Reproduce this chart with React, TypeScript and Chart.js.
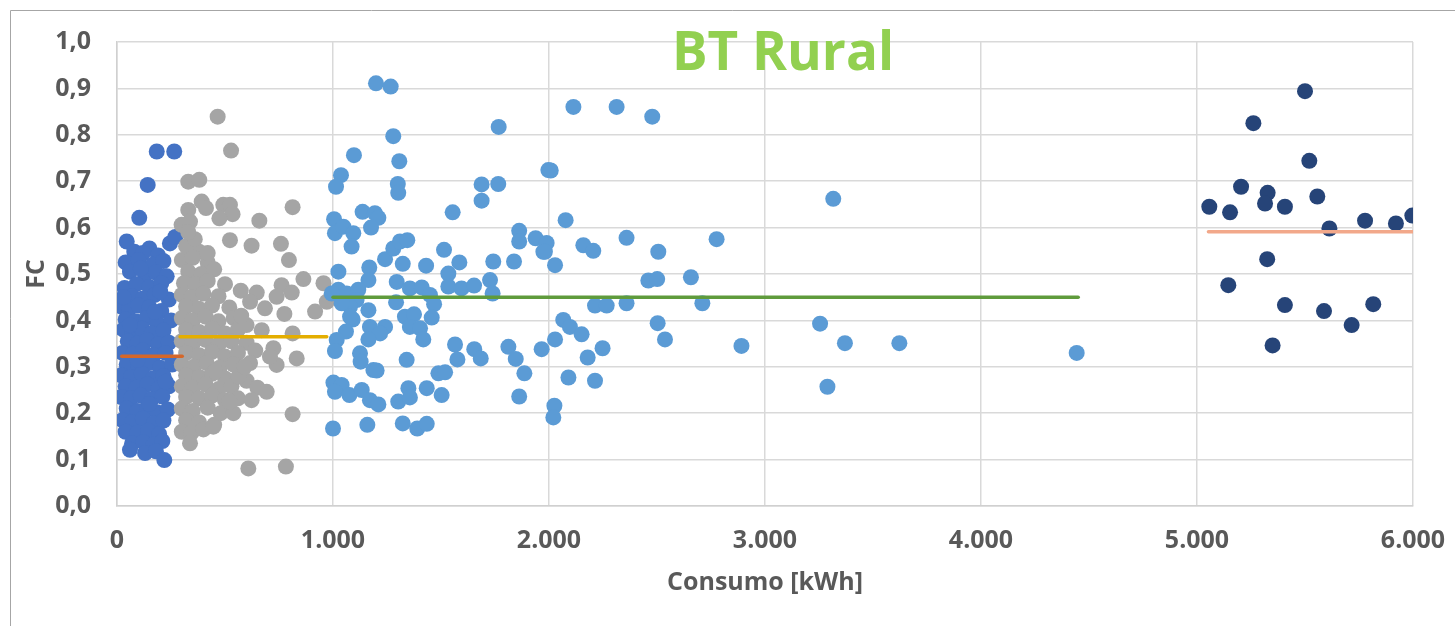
import React, { useEffect, useRef } from "react";
import { Chart, registerables } from "chart.js";

Chart.register(...registerables);

// ---- Data (Consumo [kWh], FC) ----
const darkBlueX = [
  45, 150, 245, 270, 80, 120, 190, 40, 100, 165, 215, 60, 130, 180, 230, 35, 90, 150, 205,
  70, 120, 175, 240, 20, 55, 100, 150, 205, 40, 85, 135, 185, 250, 30, 70, 115, 160, 215,
  50, 95, 140, 190, 240, 25, 75, 120, 170, 225, 45, 100, 150, 200, 255, 20, 65, 115, 165, 215,
  40, 90, 140, 190, 240, 20, 65, 110, 160, 210, 45, 95, 140, 185, 235, 25, 70, 120, 170, 215,
  40, 95, 145, 195, 70, 120, 170, 210, 60, 130, 180, 219, 184, 265, 142, 103,
  110, 200, 60, 175, 95, 225, 150, 30,
];
const darkBlueY = [
  0.57, 0.555, 0.566, 0.58, 0.548, 0.545, 0.54, 0.525, 0.53, 0.52, 0.528, 0.505, 0.498, 0.503, 0.495,
  0.47, 0.478, 0.472, 0.48, 0.452, 0.447, 0.455, 0.445, 0.43, 0.425, 0.432, 0.428, 0.42,
  0.402, 0.398, 0.405, 0.395, 0.4, 0.38, 0.375, 0.382, 0.372, 0.378, 0.355, 0.35, 0.358, 0.348, 0.352,
  0.33, 0.328, 0.335, 0.325, 0.33, 0.305, 0.3, 0.308, 0.298, 0.305, 0.282, 0.278, 0.285, 0.275, 0.28,
  0.258, 0.255, 0.262, 0.252, 0.258, 0.235, 0.232, 0.238, 0.23, 0.236, 0.21, 0.205, 0.212, 0.202, 0.208,
  0.185, 0.18, 0.188, 0.178, 0.184, 0.16, 0.158, 0.162, 0.155, 0.135, 0.138, 0.132, 0.14,
  0.121, 0.114, 0.118, 0.099, 0.764, 0.764, 0.692, 0.621,
  0.512, 0.462, 0.39, 0.418, 0.315, 0.268, 0.22, 0.45,
];

const grayX = [
  320, 380, 300, 350, 420, 330, 390, 450, 310, 360, 420, 500, 300, 345, 400, 470, 320, 380, 440, 520,
  300, 350, 410, 470, 540, 320, 380, 440, 500, 560, 300, 350, 410, 470, 530, 600,
  320, 380, 440, 500, 560, 640, 300, 355, 415, 475, 540, 320, 380, 440, 500, 600,
  300, 350, 410, 470, 530, 650, 320, 380, 440, 500, 560, 300, 350, 420, 480, 320, 380, 450,
  300, 345, 400,
  466, 528, 330, 381, 813, 392, 412, 330, 492, 523, 535, 474, 299, 338, 659, 523, 623, 759, 796,
  863, 956, 573, 647, 762, 809, 739, 616, 685, 775, 917, 971, 813, 670, 600, 724, 739, 832, 708,
  616, 693, 813, 562, 539, 623, 446, 338, 608, 782,
  360, 420, 575, 330, 455, 590, 520,
];
const grayY = [
  0.56, 0.548, 0.53, 0.535, 0.525, 0.505, 0.5, 0.51, 0.48, 0.478, 0.485, 0.478, 0.455, 0.45, 0.458, 0.452,
  0.43, 0.425, 0.432, 0.428, 0.405, 0.4, 0.408, 0.398, 0.405, 0.38, 0.375, 0.382, 0.372, 0.38,
  0.355, 0.35, 0.358, 0.348, 0.355, 0.352, 0.33, 0.325, 0.332, 0.322, 0.33, 0.335,
  0.305, 0.3, 0.308, 0.298, 0.305, 0.282, 0.278, 0.285, 0.275, 0.27,
  0.258, 0.255, 0.262, 0.252, 0.258, 0.255, 0.235, 0.232, 0.238, 0.228, 0.232,
  0.21, 0.205, 0.212, 0.2, 0.185, 0.18, 0.175, 0.16, 0.158, 0.165,
  0.839, 0.766, 0.699, 0.703, 0.644, 0.656, 0.642, 0.638, 0.649, 0.649, 0.629, 0.62, 0.606, 0.613,
  0.615, 0.573, 0.561, 0.565, 0.53, 0.489, 0.48, 0.464, 0.46, 0.476, 0.46, 0.451, 0.44, 0.426,
  0.414, 0.419, 0.44, 0.372, 0.379, 0.39, 0.34, 0.304, 0.318, 0.322, 0.308, 0.246, 0.198,
  0.279, 0.2, 0.228, 0.171, 0.135, 0.081, 0.085,
  0.575, 0.545, 0.41, 0.59, 0.29, 0.3, 0.225,
];

const lightBlueX = [
  1199, 1267, 1279, 1097, 1307, 1037, 1014, 1300, 1302, 1767, 1688, 1765, 1688, 1997, 1554, 1005,
  1009, 1048, 1094, 1086, 1137, 1194, 1210, 1176, 1241, 1279, 1310, 1344, 1323, 1431, 1514, 1585,
  1742, 1838, 1862, 1862, 1938, 1974, 1025, 1168, 1164, 1025, 1295, 1356, 1411, 1449, 1292, 1534,
  1534, 1595, 1653, 1727, 1739, 1468, 1333, 1375, 1356, 1403, 1418, 1457, 1091, 1060, 1171, 1241,
  1218, 1164, 1017, 1009, 1125, 1128, 1341, 1565, 1576, 1654, 1684, 1812, 1846, 1886, 1966, 1187,
  1202, 1488, 1519, 1002, 1040, 1009, 1076, 1133, 1171, 1210, 1302, 1349, 1356, 1434, 1503, 1862,
  1000, 1159, 1323, 1390, 1434, 1063, 1117, 1109, 1079, 1164, 994, 1040, 1079,
  2113, 2313, 2478, 2008, 2077, 1989, 1981, 2028, 2159, 2205, 2359, 2506, 2776, 2460, 2501, 2657,
  2213, 2267, 2359, 2710, 2066, 2097, 2151, 2028, 2503, 2537, 2248, 2179, 2891, 2090, 2213, 2025, 2020,
  3316, 3255, 3370, 3622, 4443, 3289,
];
const lightBlueY = [
  0.911, 0.904, 0.797, 0.756, 0.743, 0.713, 0.688, 0.694, 0.675, 0.817, 0.693, 0.694, 0.658, 0.724, 0.633, 0.618,
  0.588, 0.602, 0.588, 0.559, 0.634, 0.631, 0.621, 0.6, 0.532, 0.555, 0.57, 0.573, 0.522, 0.518, 0.552, 0.525,
  0.527, 0.527, 0.593, 0.57, 0.577, 0.548, 0.505, 0.514, 0.487, 0.466, 0.483, 0.469, 0.471, 0.455, 0.439, 0.501,
  0.473, 0.469, 0.475, 0.487, 0.458, 0.435, 0.408, 0.413, 0.386, 0.383, 0.359, 0.406, 0.402, 0.376, 0.386, 0.386,
  0.372, 0.359, 0.358, 0.334, 0.329, 0.311, 0.315, 0.348, 0.316, 0.338, 0.318, 0.343, 0.317, 0.286, 0.338, 0.293,
  0.292, 0.286, 0.288, 0.266, 0.261, 0.246, 0.239, 0.25, 0.228, 0.219, 0.225, 0.254, 0.234, 0.254, 0.239, 0.236,
  0.167, 0.175, 0.178, 0.167, 0.177, 0.458, 0.466, 0.444, 0.43, 0.422, 0.458, 0.437, 0.408,
  0.86, 0.86, 0.839, 0.723, 0.616, 0.567, 0.548, 0.519, 0.562, 0.55, 0.578, 0.548, 0.575, 0.486, 0.489, 0.493,
  0.432, 0.432, 0.437, 0.437, 0.401, 0.386, 0.37, 0.359, 0.394, 0.359, 0.34, 0.32, 0.345, 0.277, 0.27, 0.216, 0.191,
  0.662, 0.393, 0.351, 0.351, 0.33, 0.257,
];

const navyX = [
  5500, 5261, 5520, 5204, 5327, 5315, 5057, 5153, 5407, 5557, 5613, 5778, 5921, 5997, 5325, 5145,
  5407, 5588, 5816, 5716, 5350,
];
const navyY = [
  0.894, 0.825, 0.744, 0.688, 0.675, 0.652, 0.645, 0.633, 0.645, 0.667, 0.598, 0.615, 0.609, 0.626, 0.532, 0.476,
  0.433, 0.42, 0.435, 0.39, 0.346,
];

// Mean lines: [startX, endX], FC
const meanLowX = [22, 302];
const meanLowY = 0.323;
const meanMidX = [292, 971];
const meanMidY = 0.365;
const meanHighX = [1000, 4450];
const meanHighY = 0.45;
const meanTopX = [5053, 6010];
const meanTopY = 0.591;

const xTicks = [0, 1000, 2000, 3000, 4000, 5000, 6000];
const yTicks = [0, 0.1, 0.2, 0.3, 0.4, 0.5, 0.6, 0.7, 0.8, 0.9, 1.0];

const chartTitle = "BT Rural";
const xTitle = "Consumo [kWh]";
const yTitle = "FC";

const FONT = "'Open Sans', sans-serif";
const LABEL_SIZE = 25;

function pts(xs: number[], ys: number[]) {
  return xs.map((x, i) => ({ x, y: ys[i] }));
}
function seg(xs: number[], y: number) {
  return xs.map((x) => ({ x, y }));
}

const decorPlugin = {
  id: "decor",
  beforeDraw(chart: any) {
    const ctx = chart.ctx;
    ctx.save();
    ctx.fillStyle = "#ffffff";
    ctx.fillRect(0, 0, chart.width, chart.height);
    ctx.strokeStyle = "#a6a6a6";
    ctx.lineWidth = 1;
    ctx.beginPath();
    ctx.moveTo(10.5, chart.height);
    ctx.lineTo(10.5, 10.5);
    ctx.lineTo(chart.width, 10.5);
    ctx.stroke();
    ctx.restore();
  },
  afterDraw(chart: any) {
    const ctx = chart.ctx;
    ctx.save();
    ctx.fillStyle = "#92D050";
    ctx.font = `bold 53px ${FONT}`;
    ctx.textAlign = "center";
    ctx.textBaseline = "alphabetic";
    ctx.fillText(chartTitle, 783, 70);
    ctx.restore();
  },
};

export default function App() {
  const ref = useRef<HTMLCanvasElement | null>(null);

  useEffect(() => {
    if (!ref.current) return;
    const lineDs = (label: string, xs: number[], y: number, color: string) => ({
      type: "scatter" as const,
      label,
      data: seg(xs, y),
      showLine: true,
      borderColor: color,
      backgroundColor: color,
      borderWidth: 3.5,
      borderCapStyle: "round" as const,
      pointRadius: 0,
      order: 0,
    });
    const pointDs = (label: string, xs: number[], ys: number[], color: string, order: number) => ({
      type: "scatter" as const,
      label,
      data: pts(xs, ys),
      backgroundColor: color,
      borderColor: color,
      borderWidth: 0,
      pointRadius: 8,
      pointHoverRadius: 8,
      order,
    });

    const labelFont = { family: FONT, size: LABEL_SIZE, weight: "bold" as const };

    const chart = new Chart(ref.current, {
      type: "scatter",
      data: {
        datasets: [
          lineDs("Media 1", meanLowX, meanLowY, "#D4672A"),
          lineDs("Media 2", meanMidX, meanMidY, "#E4AE00"),
          lineDs("Media 3", meanHighX, meanHighY, "#5F9B3C"),
          lineDs("Media 4", meanTopX, meanTopY, "#F2A88A"),
          pointDs("Grupo 4", navyX, navyY, "#264478", 1),
          pointDs("Grupo 3", lightBlueX, lightBlueY, "#5B9BD5", 2),
          pointDs("Grupo 2", grayX, grayY, "#A5A5A5", 3),
          pointDs("Grupo 1", darkBlueX, darkBlueY, "#4472C4", 4),
        ] as any,
      },
      options: {
        animation: false,
        responsive: false,
        layout: { padding: { left: 0, top: 42, right: 42, bottom: 0 } },
        plugins: {
          legend: { display: false },
          tooltip: { enabled: false },
          title: { display: false },
        },
        scales: {
          x: {
            type: "linear",
            min: 0,
            max: 6000,
            afterFit: (s: any) => {
              s.height = 120;
              s.paddingLeft = 0;
              s.paddingRight = 0;
            },
            afterBuildTicks: (s: any) => {
              s.ticks = xTicks.map((v) => ({ value: v }));
            },
            ticks: {
              padding: 20,
              color: "#595959",
              font: labelFont,
              maxRotation: 0,
              callback: (v: any) => Number(v).toLocaleString("de-DE"),
            },
            grid: { color: "#d9d9d9", lineWidth: 1.5, drawTicks: false },
            border: { color: "#d0d0d0", width: 1.5 },
            title: {
              display: true,
              text: xTitle,
              color: "#595959",
              font: labelFont,
              padding: { top: 0, bottom: 28 },
            },
          },
          y: {
            type: "linear",
            min: 0,
            max: 1,
            afterFit: (s: any) => {
              s.width = 117;
              s.paddingTop = 0;
              s.paddingBottom = 0;
            },
            afterBuildTicks: (s: any) => {
              s.ticks = yTicks.map((v) => ({ value: v }));
            },
            ticks: {
              padding: 26,
              color: "#595959",
              font: labelFont,
              callback: (v: any) => Number(v).toFixed(1).replace(".", ","),
            },
            grid: { color: "#d9d9d9", lineWidth: 1.5, drawTicks: false },
            border: { color: "#d0d0d0", width: 1.5 },
            title: {
              display: true,
              text: yTitle,
              color: "#595959",
              font: labelFont,
              padding: { top: 22, bottom: 0 },
            },
          },
        },
      },
      plugins: [decorPlugin],
    });
    return () => chart.destroy();
  }, []);

  return (
    <div style={{ position: "absolute", left: 0, top: 0, width: 1455, height: 626 }}>
      <canvas ref={ref} width={1455} height={626} style={{ width: 1455, height: 626 }} />
    </div>
  );
}
